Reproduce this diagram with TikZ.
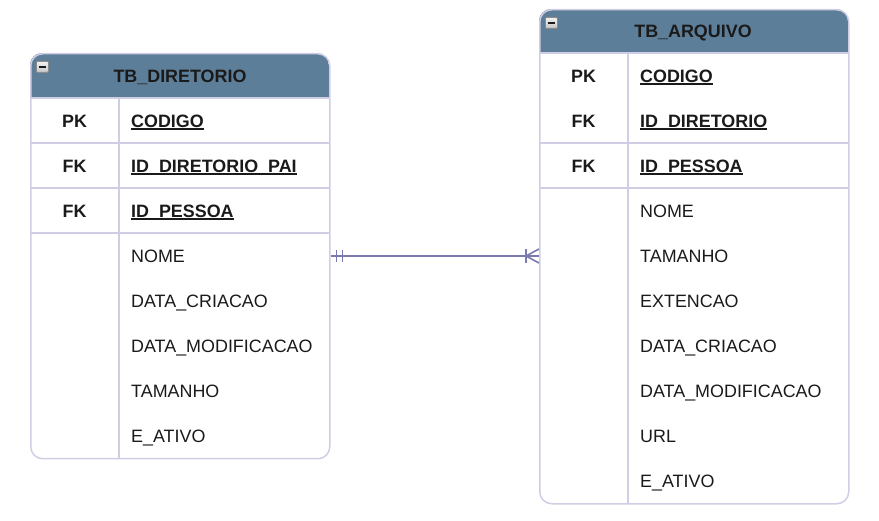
\documentclass[tikz,border=0pt]{standalone}
\usepackage{fontspec}
\setmainfont{Liberation Sans}
\usetikzlibrary{calc}
\definecolor{hdr}{RGB}{93,126,153}
\definecolor{bord}{RGB}{208,206,228}
\definecolor{conn}{RGB}{122,122,176}
\definecolor{ink}{RGB}{26,26,26}
\newcommand\ulk[1]{\setbox0\hbox{#1}\rlap{\rule[-2.4pt]{\wd0}{1.4pt}}\box0}
\begin{document}
\begin{tikzpicture}[x=1pt,y=-1pt,
  frame/.style={draw=bord, line width=1.5pt, rounded corners=12pt, inner sep=0pt, anchor=north west},
  sep/.style={draw=bord, line width=1.5pt},
  txt/.style={inner sep=0pt, text height=12.7pt, text depth=0pt, text=ink, font=\fontsize{17.9}{20}\selectfont},
  bold/.style={txt, font=\fontsize{17.9}{20}\selectfont\bfseries},
  fld/.style={txt, anchor=west},
  kfld/.style={bold, anchor=west},
  icon/.style={draw=gray!90, line width=0.8pt, top color=gray!10, bottom color=gray!45, inner sep=0pt, minimum width=12pt, minimum height=11pt, anchor=north west, rounded corners=1pt},
  connline/.style={draw=conn, line width=1.6pt}]
\useasboundingbox (0,0) rectangle (879,521);
% ---------- TB_DIRETORIO ----------
\begin{scope}
\clip[rounded corners=12pt] (30,53) rectangle (329,458);
\fill[hdr] (30,53) rectangle (329,98);
\end{scope}
\node[frame, minimum width=299pt, minimum height=405pt] (dirT) at (30,53) {};
\draw[sep] (30,98) -- (329,98);
\draw[sep] (30,143) -- (329,143);
\draw[sep] (30,188) -- (329,188);
\draw[sep] (30,233) -- (329,233);
\draw[sep] (119,98) -- (119,458);
\node[icon] (dirIcon) at (36,61) {};
\draw[ink, line width=1.8pt] ($(dirIcon.center)+(-3.5,0)$) -- ($(dirIcon.center)+(3.5,0)$);
\node[bold] (dirTitle) at (180,76) {TB\_DIRETORIO};
\node[bold] (dk1) at (74.5,121) {PK};
\node[bold] (dk2) at (74.5,166) {FK};
\node[bold] (dk3) at (74.5,211) {FK};
\node[kfld] (df1) at (131,121) {\ulk{CODIGO}};
\node[kfld] (df2) at (131,166) {\ulk{ID\_DIRETORIO\_PAI}};
\node[kfld] (df3) at (131,211) {\ulk{ID\_PESSOA}};
\node[fld] (df4) at (131,256) {NOME};
\node[fld] (df5) at (131,301) {DATA\_CRIACAO};
\node[fld] (df6) at (131,346) {DATA\_MODIFICACAO};
\node[fld] (df7) at (131,391) {TAMANHO};
\node[fld] (df8) at (131,436) {E\_ATIVO};
% ---------- TB_ARQUIVO ----------
\begin{scope}
\clip[rounded corners=12pt] (539,9) rectangle (848,503);
\fill[hdr] (539,9) rectangle (848,53);
\end{scope}
\node[frame, minimum width=309pt, minimum height=494pt] (arqT) at (539,9) {};
\draw[sep] (539,53) -- (848,53);
\draw[sep] (539,143) -- (848,143);
\draw[sep] (539,188) -- (848,188);
\draw[sep] (628,53) -- (628,503);
\node[icon] (arqIcon) at (545,17) {};
\draw[ink, line width=1.8pt] ($(arqIcon.center)+(-3.5,0)$) -- ($(arqIcon.center)+(3.5,0)$);
\node[bold] (arqTitle) at (693,31) {TB\_ARQUIVO};
\node[bold] (ak1) at (583.5,76) {PK};
\node[bold] (ak2) at (583.5,121) {FK};
\node[bold] (ak3) at (583.5,166) {FK};
\node[kfld] (af1) at (640,76) {\ulk{CODIGO}};
\node[kfld] (af2) at (640,121) {\ulk{ID\_DIRETORIO}};
\node[kfld] (af3) at (640,166) {\ulk{ID\_PESSOA}};
\node[fld] (af4) at (640,211) {NOME};
\node[fld] (af5) at (640,256) {TAMANHO};
\node[fld] (af6) at (640,301) {EXTENCAO};
\node[fld] (af7) at (640,346) {DATA\_CRIACAO};
\node[fld] (af8) at (640,391) {DATA\_MODIFICACAO};
\node[fld] (af9) at (640,436) {URL};
\node[fld] (af10) at (640,481) {E\_ATIVO};
% ---------- relationship ----------
\coordinate (relA) at (dirT.east |- df4.west);
\coordinate (relB) at (arqT.west |- df4.west);
\draw[connline] (relA) -- (relB);
\draw[connline] ($(relA)+(6,-6)$) -- ++(0,12);
\draw[connline] ($(relA)+(12,-6)$) -- ++(0,12);
\draw[connline] ($(relB)+(-13,-7)$) -- ++(0,14);
\draw[connline] ($(relB)+(0,-7)$) -- ($(relB)+(-13,0)$) -- ($(relB)+(0,7)$);
\end{tikzpicture}
\end{document}
